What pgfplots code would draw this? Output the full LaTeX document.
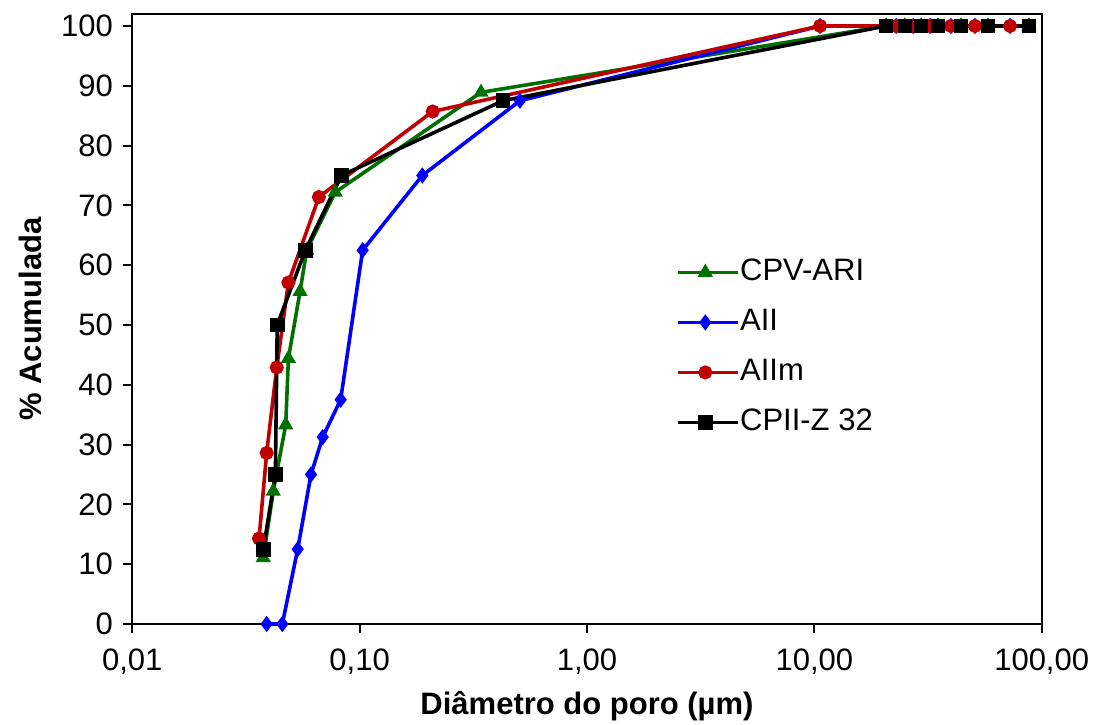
\documentclass[border=0pt]{standalone}
\usepackage{fontspec}
\setmainfont{Liberation Sans}
\usepackage{pgfplots}
\pgfplotsset{compat=1.18}
\definecolor{cgreen}{RGB}{0,112,0}
\definecolor{cblue}{RGB}{0,0,255}
\definecolor{cred}{RGB}{192,0,0}
\begin{document}
\fontsize{15}{18}\selectfont
\begin{tikzpicture}
\useasboundingbox (-66.15pt,-50pt) rectangle (480.35pt,312pt);
\begin{axis}[
  scale only axis, width=454.7pt, height=305pt,
  at={(0,0)}, anchor=south west,
  xmode=log, xmin=0.01, xmax=100, ymin=0, ymax=102,
  xtick={0.01,0.1,1,10,100},
  xticklabels={{0,01},{0,10},{1,00},{10,00},{100,00}},
  xminorticks=false,
  ytick={0,10,...,100},
  xtick pos=bottom, ytick pos=left,
  /pgf/number format/assume math mode=true,
  tick align=outside, major tick length=4.5pt,
  tick style={black, line width=1pt},
  axis line style={line width=1pt},
  every tick label/.append style={font=\fontsize{15.5}{18}\selectfont},
  xticklabel style={yshift=-2.5pt},
  xlabel={\textbf{Diâmetro do poro (µm)}},
  ylabel={\textbf{\% Acumulada}},
  xlabel style={at={(axis description cs:0.5,-0.1345)}, anchor=center, font=\fontsize{15.5}{18}\selectfont},
  ylabel style={at={(axis description cs:-0.1122,0.5)}, anchor=center, font=\fontsize{15.5}{18}\selectfont},
  clip=false,
  legend cell align=left,
  legend style={at={(axis description cs:0.598,0.6)}, anchor=north west, draw=none, fill=none,
    inner sep=0pt, row sep=11pt, font=\fontsize{15.5}{18}\selectfont,
    nodes={inner sep=0pt, text height=11pt, text depth=3pt}},
  legend image code/.code={\draw[mark repeat=2,mark phase=2,#1] plot coordinates {(0pt,0pt) (13.5pt,0pt) (27pt,0pt)}; \path (27pt,0pt) -- (30pt,0pt);},
]
\addplot[cgreen, line width=1.8pt, mark=triangle*, mark size=2.6pt, mark options={solid}] coordinates {
(0.0377,11.1) (0.0417,22.2) (0.0473,33.3) (0.0486,44.4) (0.0547,55.6) (0.0585,62.5) (0.0781,72.2) (0.342,88.9)
(20.7,100) (25.0,100) (29.5,100) (35.0,100) (44.2,100) (58.0,100) (87.9,100)};
\addlegendentry{CPV-ARI}
\addplot[cblue, line width=1.8pt, mark=diamond*, mark size=2.6pt, mark options={solid}] coordinates {
(0.039,0) (0.0457,0) (0.0534,12.5) (0.0611,25) (0.0688,31.25) (0.0825,37.5) (0.1031,62.5) (0.1887,75) (0.507,87.5)
(10.6,100) (22.9,100) (27.2,100) (32.3,100) (39.9,100) (50.9,100) (72.6,100)};
\addlegendentry{AII}
\addplot[cred, line width=1.8pt, mark=*, mark size=2.6pt, mark options={solid}] coordinates {
(0.0361,14.3) (0.039,28.6) (0.0432,42.9) (0.0486,57.1) (0.0662,71.4) (0.2096,85.7)
(10.6,100) (22.9,100) (27.2,100) (32.3,100) (39.9,100) (50.9,100) (72.6,100)};
\addlegendentry{AIIm}
\addplot[black, line width=1.8pt, mark=square*, mark size=2.75pt, mark options={solid}] coordinates {
(0.0377,12.5) (0.0426,25) (0.0434,50) (0.0577,62.5) (0.0832,75) (0.427,87.5)
(20.7,100) (25.0,100) (29.5,100) (35.0,100) (44.2,100) (58.0,100) (87.9,100)};
\addlegendentry{CPII-Z 32}
\end{axis}
\end{tikzpicture}
\end{document}
